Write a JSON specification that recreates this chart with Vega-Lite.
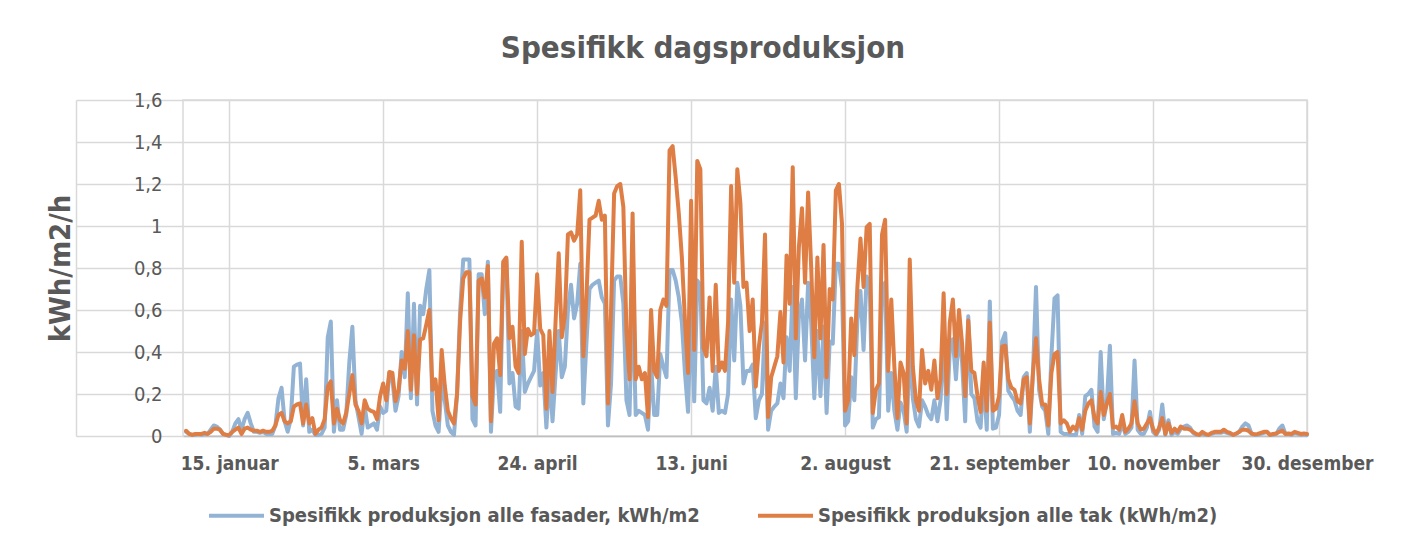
{
"$schema": "https://vega.github.io/schema/vega-lite/v6.json",
"width": 1124, "height": 336,
"autosize": {"type": "none"},
"padding": {"left": 183, "top": 100, "right": 102, "bottom": 110},
"background": "white",
"title": {"text": "Spesifikk dagsproduksjon", "anchor": "middle", "frame": "group", "dx": -42, "offset": 25, "font": "DejaVu Sans Condensed", "fontSize": 31, "fontWeight": "bold", "color": "#595959"},
"data": {"values": [
{"dato":"2020-01-01","fasader":0.02,"tak":0.025},{"dato":"2020-01-02","fasader":0.01,"tak":0.01},{"dato":"2020-01-03","fasader":0.005,"tak":0.005},{"dato":"2020-01-04","fasader":0.005,"tak":0.01},{"dato":"2020-01-05","fasader":0.01,"tak":0.01},{"dato":"2020-01-06","fasader":0.005,"tak":0.01},{"dato":"2020-01-07","fasader":0.01,"tak":0.015},{"dato":"2020-01-08","fasader":0.01,"tak":0.01},{"dato":"2020-01-09","fasader":0.03,"tak":0.02},{"dato":"2020-01-10","fasader":0.05,"tak":0.035},
{"dato":"2020-01-11","fasader":0.045,"tak":0.035},{"dato":"2020-01-12","fasader":0.03,"tak":0.03},{"dato":"2020-01-13","fasader":0.01,"tak":0.01},{"dato":"2020-01-14","fasader":0.005,"tak":0.005},{"dato":"2020-01-15","fasader":0.0,"tak":0.005},{"dato":"2020-01-16","fasader":0.02,"tak":0.02},{"dato":"2020-01-17","fasader":0.06,"tak":0.03},{"dato":"2020-01-18","fasader":0.08,"tak":0.04},{"dato":"2020-01-19","fasader":0.03,"tak":0.01},{"dato":"2020-01-20","fasader":0.08,"tak":0.035},
{"dato":"2020-01-21","fasader":0.11,"tak":0.04},{"dato":"2020-01-22","fasader":0.06,"tak":0.03},{"dato":"2020-01-23","fasader":0.02,"tak":0.025},{"dato":"2020-01-24","fasader":0.02,"tak":0.025},{"dato":"2020-01-25","fasader":0.015,"tak":0.02},{"dato":"2020-01-26","fasader":0.02,"tak":0.025},{"dato":"2020-01-27","fasader":0.01,"tak":0.02},{"dato":"2020-01-28","fasader":0.01,"tak":0.02},{"dato":"2020-01-29","fasader":0.01,"tak":0.025},{"dato":"2020-01-30","fasader":0.05,"tak":0.05},
{"dato":"2020-01-31","fasader":0.18,"tak":0.1},{"dato":"2020-02-01","fasader":0.23,"tak":0.11},{"dato":"2020-02-02","fasader":0.07,"tak":0.07},{"dato":"2020-02-03","fasader":0.02,"tak":0.06},{"dato":"2020-02-04","fasader":0.08,"tak":0.07},{"dato":"2020-02-05","fasader":0.33,"tak":0.14},{"dato":"2020-02-06","fasader":0.34,"tak":0.15},{"dato":"2020-02-07","fasader":0.345,"tak":0.155},{"dato":"2020-02-08","fasader":0.05,"tak":0.06},{"dato":"2020-02-09","fasader":0.27,"tak":0.15},
{"dato":"2020-02-10","fasader":0.02,"tak":0.06},{"dato":"2020-02-11","fasader":0.03,"tak":0.085},{"dato":"2020-02-12","fasader":0.005,"tak":0.01},{"dato":"2020-02-13","fasader":0.005,"tak":0.03},{"dato":"2020-02-14","fasader":0.01,"tak":0.04},{"dato":"2020-02-15","fasader":0.04,"tak":0.08},{"dato":"2020-02-16","fasader":0.47,"tak":0.235},{"dato":"2020-02-17","fasader":0.545,"tak":0.26},{"dato":"2020-02-18","fasader":0.02,"tak":0.06},{"dato":"2020-02-19","fasader":0.17,"tak":0.13},
{"dato":"2020-02-20","fasader":0.03,"tak":0.075},{"dato":"2020-02-21","fasader":0.03,"tak":0.06},{"dato":"2020-02-22","fasader":0.1,"tak":0.11},{"dato":"2020-02-23","fasader":0.35,"tak":0.2},{"dato":"2020-02-24","fasader":0.52,"tak":0.29},{"dato":"2020-02-25","fasader":0.17,"tak":0.15},{"dato":"2020-02-26","fasader":0.09,"tak":0.12},{"dato":"2020-02-27","fasader":0.01,"tak":0.06},{"dato":"2020-02-28","fasader":0.14,"tak":0.17},{"dato":"2020-02-29","fasader":0.04,"tak":0.13},
{"dato":"2020-03-01","fasader":0.05,"tak":0.12},{"dato":"2020-03-02","fasader":0.06,"tak":0.115},{"dato":"2020-03-03","fasader":0.03,"tak":0.08},{"dato":"2020-03-04","fasader":0.14,"tak":0.19},{"dato":"2020-03-05","fasader":0.11,"tak":0.25},{"dato":"2020-03-06","fasader":0.12,"tak":0.17},{"dato":"2020-03-07","fasader":0.3,"tak":0.305},{"dato":"2020-03-08","fasader":0.27,"tak":0.3},{"dato":"2020-03-09","fasader":0.12,"tak":0.165},{"dato":"2020-03-10","fasader":0.19,"tak":0.22},
{"dato":"2020-03-11","fasader":0.4,"tak":0.36},{"dato":"2020-03-12","fasader":0.28,"tak":0.32},{"dato":"2020-03-13","fasader":0.68,"tak":0.5},{"dato":"2020-03-14","fasader":0.18,"tak":0.22},{"dato":"2020-03-15","fasader":0.63,"tak":0.48},{"dato":"2020-03-16","fasader":0.15,"tak":0.2},{"dato":"2020-03-17","fasader":0.62,"tak":0.46},{"dato":"2020-03-18","fasader":0.58,"tak":0.465},{"dato":"2020-03-19","fasader":0.7,"tak":0.53},{"dato":"2020-03-20","fasader":0.79,"tak":0.6},
{"dato":"2020-03-21","fasader":0.12,"tak":0.22},{"dato":"2020-03-22","fasader":0.05,"tak":0.27},{"dato":"2020-03-23","fasader":0.02,"tak":0.075},{"dato":"2020-03-24","fasader":0.25,"tak":0.41},{"dato":"2020-03-25","fasader":0.17,"tak":0.24},{"dato":"2020-03-26","fasader":0.05,"tak":0.12},{"dato":"2020-03-27","fasader":0.02,"tak":0.085},{"dato":"2020-03-28","fasader":0.005,"tak":0.06},{"dato":"2020-03-29","fasader":0.2,"tak":0.2},{"dato":"2020-03-30","fasader":0.6,"tak":0.55},
{"dato":"2020-03-31","fasader":0.84,"tak":0.75},{"dato":"2020-04-01","fasader":0.84,"tak":0.78},{"dato":"2020-04-02","fasader":0.84,"tak":0.78},{"dato":"2020-04-03","fasader":0.08,"tak":0.19},{"dato":"2020-04-04","fasader":0.05,"tak":0.15},{"dato":"2020-04-05","fasader":0.77,"tak":0.74},{"dato":"2020-04-06","fasader":0.77,"tak":0.75},{"dato":"2020-04-07","fasader":0.58,"tak":0.66},{"dato":"2020-04-08","fasader":0.83,"tak":0.81},{"dato":"2020-04-09","fasader":0.02,"tak":0.07},
{"dato":"2020-04-10","fasader":0.3,"tak":0.44},{"dato":"2020-04-11","fasader":0.31,"tak":0.465},{"dato":"2020-04-12","fasader":0.115,"tak":0.29},{"dato":"2020-04-13","fasader":0.82,"tak":0.83},{"dato":"2020-04-14","fasader":0.84,"tak":0.85},{"dato":"2020-04-15","fasader":0.25,"tak":0.465},{"dato":"2020-04-16","fasader":0.3,"tak":0.52},{"dato":"2020-04-17","fasader":0.14,"tak":0.33},{"dato":"2020-04-18","fasader":0.13,"tak":0.3},{"dato":"2020-04-19","fasader":0.5,"tak":0.925},
{"dato":"2020-04-20","fasader":0.21,"tak":0.39},{"dato":"2020-04-21","fasader":0.25,"tak":0.51},{"dato":"2020-04-22","fasader":0.28,"tak":0.48},{"dato":"2020-04-23","fasader":0.31,"tak":0.49},{"dato":"2020-04-24","fasader":0.5,"tak":0.77},{"dato":"2020-04-25","fasader":0.24,"tak":0.51},{"dato":"2020-04-26","fasader":0.3,"tak":0.48},{"dato":"2020-04-27","fasader":0.04,"tak":0.13},{"dato":"2020-04-28","fasader":0.29,"tak":0.5},{"dato":"2020-04-29","fasader":0.07,"tak":0.21},
{"dato":"2020-04-30","fasader":0.3,"tak":0.55},{"dato":"2020-05-01","fasader":0.5,"tak":0.87},{"dato":"2020-05-02","fasader":0.28,"tak":0.47},{"dato":"2020-05-03","fasader":0.33,"tak":0.57},{"dato":"2020-05-04","fasader":0.6,"tak":0.96},{"dato":"2020-05-05","fasader":0.72,"tak":0.97},{"dato":"2020-05-06","fasader":0.56,"tak":0.93},{"dato":"2020-05-07","fasader":0.63,"tak":0.96},{"dato":"2020-05-08","fasader":0.82,"tak":1.17},{"dato":"2020-05-09","fasader":0.155,"tak":0.38},
{"dato":"2020-05-10","fasader":0.44,"tak":0.66},{"dato":"2020-05-11","fasader":0.7,"tak":1.03},{"dato":"2020-05-12","fasader":0.72,"tak":1.04},{"dato":"2020-05-13","fasader":0.73,"tak":1.05},{"dato":"2020-05-14","fasader":0.74,"tak":1.12},{"dato":"2020-05-15","fasader":0.66,"tak":1.03},{"dato":"2020-05-16","fasader":0.63,"tak":1.05},{"dato":"2020-05-17","fasader":0.05,"tak":0.155},{"dato":"2020-05-18","fasader":0.25,"tak":0.6},{"dato":"2020-05-19","fasader":0.74,"tak":1.155},
{"dato":"2020-05-20","fasader":0.76,"tak":1.19},{"dato":"2020-05-21","fasader":0.76,"tak":1.2},{"dato":"2020-05-22","fasader":0.63,"tak":1.09},{"dato":"2020-05-23","fasader":0.17,"tak":0.5},{"dato":"2020-05-24","fasader":0.1,"tak":0.27},{"dato":"2020-05-25","fasader":0.7,"tak":1.06},{"dato":"2020-05-26","fasader":0.1,"tak":0.27},{"dato":"2020-05-27","fasader":0.12,"tak":0.33},{"dato":"2020-05-28","fasader":0.11,"tak":0.27},{"dato":"2020-05-29","fasader":0.1,"tak":0.3},
{"dato":"2020-05-30","fasader":0.03,"tak":0.09},{"dato":"2020-05-31","fasader":0.35,"tak":0.6},{"dato":"2020-06-01","fasader":0.1,"tak":0.31},{"dato":"2020-06-02","fasader":0.1,"tak":0.28},{"dato":"2020-06-03","fasader":0.39,"tak":0.6},{"dato":"2020-06-04","fasader":0.33,"tak":0.65},{"dato":"2020-06-05","fasader":0.28,"tak":0.62},{"dato":"2020-06-06","fasader":0.79,"tak":1.36},{"dato":"2020-06-07","fasader":0.79,"tak":1.38},{"dato":"2020-06-08","fasader":0.74,"tak":1.23},
{"dato":"2020-06-09","fasader":0.66,"tak":1.06},{"dato":"2020-06-10","fasader":0.54,"tak":0.85},{"dato":"2020-06-11","fasader":0.3,"tak":0.55},{"dato":"2020-06-12","fasader":0.115,"tak":0.3},{"dato":"2020-06-13","fasader":0.62,"tak":1.12},{"dato":"2020-06-14","fasader":0.165,"tak":0.41},{"dato":"2020-06-15","fasader":0.74,"tak":1.31},{"dato":"2020-06-16","fasader":0.72,"tak":1.27},{"dato":"2020-06-17","fasader":0.17,"tak":0.42},{"dato":"2020-06-18","fasader":0.155,"tak":0.38},
{"dato":"2020-06-19","fasader":0.23,"tak":0.66},{"dato":"2020-06-20","fasader":0.12,"tak":0.31},{"dato":"2020-06-21","fasader":0.33,"tak":0.72},{"dato":"2020-06-22","fasader":0.11,"tak":0.31},{"dato":"2020-06-23","fasader":0.12,"tak":0.35},{"dato":"2020-06-24","fasader":0.11,"tak":0.31},{"dato":"2020-06-25","fasader":0.2,"tak":0.54},{"dato":"2020-06-26","fasader":0.65,"tak":1.19},{"dato":"2020-06-27","fasader":0.36,"tak":0.73},{"dato":"2020-06-28","fasader":0.73,"tak":1.27},
{"dato":"2020-06-29","fasader":0.62,"tak":1.11},{"dato":"2020-06-30","fasader":0.25,"tak":0.71},{"dato":"2020-07-01","fasader":0.31,"tak":0.73},{"dato":"2020-07-02","fasader":0.31,"tak":0.5},{"dato":"2020-07-03","fasader":0.34,"tak":0.65},{"dato":"2020-07-04","fasader":0.085,"tak":0.235},{"dato":"2020-07-05","fasader":0.17,"tak":0.425},{"dato":"2020-07-06","fasader":0.2,"tak":0.54},{"dato":"2020-07-07","fasader":0.54,"tak":0.96},{"dato":"2020-07-08","fasader":0.03,"tak":0.09},
{"dato":"2020-07-09","fasader":0.12,"tak":0.28},{"dato":"2020-07-10","fasader":0.14,"tak":0.33},{"dato":"2020-07-11","fasader":0.155,"tak":0.38},{"dato":"2020-07-12","fasader":0.25,"tak":0.59},{"dato":"2020-07-13","fasader":0.18,"tak":0.35},{"dato":"2020-07-14","fasader":0.47,"tak":0.86},{"dato":"2020-07-15","fasader":0.31,"tak":0.63},{"dato":"2020-07-16","fasader":0.71,"tak":1.28},{"dato":"2020-07-17","fasader":0.18,"tak":0.465},{"dato":"2020-07-18","fasader":0.57,"tak":0.9},
{"dato":"2020-07-19","fasader":0.65,"tak":1.085},{"dato":"2020-07-20","fasader":0.36,"tak":0.73},{"dato":"2020-07-21","fasader":0.73,"tak":1.16},{"dato":"2020-07-22","fasader":0.54,"tak":0.8},{"dato":"2020-07-23","fasader":0.18,"tak":0.375},{"dato":"2020-07-24","fasader":0.5,"tak":0.85},{"dato":"2020-07-25","fasader":0.19,"tak":0.465},{"dato":"2020-07-26","fasader":0.52,"tak":0.91},{"dato":"2020-07-27","fasader":0.11,"tak":0.28},{"dato":"2020-07-28","fasader":0.45,"tak":0.7},
{"dato":"2020-07-29","fasader":0.44,"tak":0.65},{"dato":"2020-07-30","fasader":0.82,"tak":1.17},{"dato":"2020-07-31","fasader":0.82,"tak":1.2},{"dato":"2020-08-01","fasader":0.7,"tak":1.01},{"dato":"2020-08-02","fasader":0.05,"tak":0.12},{"dato":"2020-08-03","fasader":0.07,"tak":0.17},{"dato":"2020-08-04","fasader":0.28,"tak":0.56},{"dato":"2020-08-05","fasader":0.17,"tak":0.385},{"dato":"2020-08-06","fasader":0.55,"tak":0.71},{"dato":"2020-08-07","fasader":0.69,"tak":0.94},
{"dato":"2020-08-08","fasader":0.41,"tak":0.71},{"dato":"2020-08-09","fasader":0.76,"tak":0.995},{"dato":"2020-08-10","fasader":0.72,"tak":1.01},{"dato":"2020-08-11","fasader":0.04,"tak":0.11},{"dato":"2020-08-12","fasader":0.08,"tak":0.22},{"dato":"2020-08-13","fasader":0.09,"tak":0.25},{"dato":"2020-08-14","fasader":0.7,"tak":0.96},{"dato":"2020-08-15","fasader":0.73,"tak":1.03},{"dato":"2020-08-16","fasader":0.12,"tak":0.31},{"dato":"2020-08-17","fasader":0.3,"tak":0.65},
{"dato":"2020-08-18","fasader":0.12,"tak":0.33},{"dato":"2020-08-19","fasader":0.03,"tak":0.085},{"dato":"2020-08-20","fasader":0.16,"tak":0.35},{"dato":"2020-08-21","fasader":0.12,"tak":0.3},{"dato":"2020-08-22","fasader":0.02,"tak":0.06},{"dato":"2020-08-23","fasader":0.44,"tak":0.84},{"dato":"2020-08-24","fasader":0.18,"tak":0.33},{"dato":"2020-08-25","fasader":0.08,"tak":0.17},{"dato":"2020-08-26","fasader":0.045,"tak":0.12},{"dato":"2020-08-27","fasader":0.17,"tak":0.41},
{"dato":"2020-08-28","fasader":0.14,"tak":0.25},{"dato":"2020-08-29","fasader":0.1,"tak":0.31},{"dato":"2020-08-30","fasader":0.08,"tak":0.22},{"dato":"2020-08-31","fasader":0.17,"tak":0.36},{"dato":"2020-09-01","fasader":0.07,"tak":0.18},{"dato":"2020-09-02","fasader":0.17,"tak":0.27},{"dato":"2020-09-03","fasader":0.5,"tak":0.68},{"dato":"2020-09-04","fasader":0.08,"tak":0.2},{"dato":"2020-09-05","fasader":0.41,"tak":0.54},{"dato":"2020-09-06","fasader":0.46,"tak":0.65},
{"dato":"2020-09-07","fasader":0.27,"tak":0.38},{"dato":"2020-09-08","fasader":0.5,"tak":0.6},{"dato":"2020-09-09","fasader":0.35,"tak":0.44},{"dato":"2020-09-10","fasader":0.07,"tak":0.19},{"dato":"2020-09-11","fasader":0.57,"tak":0.55},{"dato":"2020-09-12","fasader":0.2,"tak":0.31},{"dato":"2020-09-13","fasader":0.18,"tak":0.3},{"dato":"2020-09-14","fasader":0.07,"tak":0.19},{"dato":"2020-09-15","fasader":0.04,"tak":0.115},{"dato":"2020-09-16","fasader":0.28,"tak":0.35},
{"dato":"2020-09-17","fasader":0.03,"tak":0.12},{"dato":"2020-09-18","fasader":0.64,"tak":0.54},{"dato":"2020-09-19","fasader":0.035,"tak":0.12},{"dato":"2020-09-20","fasader":0.04,"tak":0.13},{"dato":"2020-09-21","fasader":0.1,"tak":0.19},{"dato":"2020-09-22","fasader":0.45,"tak":0.425},{"dato":"2020-09-23","fasader":0.49,"tak":0.43},{"dato":"2020-09-24","fasader":0.215,"tak":0.27},{"dato":"2020-09-25","fasader":0.19,"tak":0.23},{"dato":"2020-09-26","fasader":0.17,"tak":0.22},
{"dato":"2020-09-27","fasader":0.12,"tak":0.165},{"dato":"2020-09-28","fasader":0.1,"tak":0.155},{"dato":"2020-09-29","fasader":0.28,"tak":0.27},{"dato":"2020-09-30","fasader":0.3,"tak":0.28},{"dato":"2020-10-01","fasader":0.02,"tak":0.06},{"dato":"2020-10-02","fasader":0.3,"tak":0.3},{"dato":"2020-10-03","fasader":0.71,"tak":0.465},{"dato":"2020-10-04","fasader":0.22,"tak":0.27},{"dato":"2020-10-05","fasader":0.14,"tak":0.15},{"dato":"2020-10-06","fasader":0.12,"tak":0.15},
{"dato":"2020-10-07","fasader":0.01,"tak":0.05},{"dato":"2020-10-08","fasader":0.38,"tak":0.3},{"dato":"2020-10-09","fasader":0.655,"tak":0.39},{"dato":"2020-10-10","fasader":0.67,"tak":0.4},{"dato":"2020-10-11","fasader":0.02,"tak":0.06},{"dato":"2020-10-12","fasader":0.01,"tak":0.075},{"dato":"2020-10-13","fasader":0.01,"tak":0.06},{"dato":"2020-10-14","fasader":0.005,"tak":0.02},{"dato":"2020-10-15","fasader":0.005,"tak":0.045},{"dato":"2020-10-16","fasader":0.005,"tak":0.03},
{"dato":"2020-10-17","fasader":0.1,"tak":0.085},{"dato":"2020-10-18","fasader":0.01,"tak":0.03},{"dato":"2020-10-19","fasader":0.19,"tak":0.12},{"dato":"2020-10-20","fasader":0.2,"tak":0.155},{"dato":"2020-10-21","fasader":0.22,"tak":0.17},{"dato":"2020-10-22","fasader":0.045,"tak":0.085},{"dato":"2020-10-23","fasader":0.02,"tak":0.06},{"dato":"2020-10-24","fasader":0.4,"tak":0.21},{"dato":"2020-10-25","fasader":0.08,"tak":0.1},{"dato":"2020-10-26","fasader":0.16,"tak":0.155},
{"dato":"2020-10-27","fasader":0.43,"tak":0.2},{"dato":"2020-10-28","fasader":0.01,"tak":0.04},{"dato":"2020-10-29","fasader":0.015,"tak":0.045},{"dato":"2020-10-30","fasader":0.01,"tak":0.03},{"dato":"2020-10-31","fasader":0.06,"tak":0.1},{"dato":"2020-11-01","fasader":0.01,"tak":0.02},{"dato":"2020-11-02","fasader":0.02,"tak":0.035},{"dato":"2020-11-03","fasader":0.04,"tak":0.06},{"dato":"2020-11-04","fasader":0.36,"tak":0.165},{"dato":"2020-11-05","fasader":0.03,"tak":0.06},
{"dato":"2020-11-06","fasader":0.01,"tak":0.03},{"dato":"2020-11-07","fasader":0.01,"tak":0.035},{"dato":"2020-11-08","fasader":0.04,"tak":0.06},{"dato":"2020-11-09","fasader":0.115,"tak":0.085},{"dato":"2020-11-10","fasader":0.02,"tak":0.035},{"dato":"2020-11-11","fasader":0.005,"tak":0.01},{"dato":"2020-11-12","fasader":0.03,"tak":0.04},{"dato":"2020-11-13","fasader":0.15,"tak":0.085},{"dato":"2020-11-14","fasader":0.005,"tak":0.01},{"dato":"2020-11-15","fasader":0.075,"tak":0.06},
{"dato":"2020-11-16","fasader":0.005,"tak":0.015},{"dato":"2020-11-17","fasader":0.02,"tak":0.035},{"dato":"2020-11-18","fasader":0.01,"tak":0.02},{"dato":"2020-11-19","fasader":0.035,"tak":0.045},{"dato":"2020-11-20","fasader":0.045,"tak":0.035},{"dato":"2020-11-21","fasader":0.05,"tak":0.035},{"dato":"2020-11-22","fasader":0.04,"tak":0.03},{"dato":"2020-11-23","fasader":0.015,"tak":0.02},{"dato":"2020-11-24","fasader":0.005,"tak":0.01},{"dato":"2020-11-25","fasader":0.005,"tak":0.005},
{"dato":"2020-11-26","fasader":0.01,"tak":0.02},{"dato":"2020-11-27","fasader":0.005,"tak":0.01},{"dato":"2020-11-28","fasader":0.005,"tak":0.005},{"dato":"2020-11-29","fasader":0.01,"tak":0.015},{"dato":"2020-11-30","fasader":0.015,"tak":0.02},{"dato":"2020-12-01","fasader":0.015,"tak":0.02},{"dato":"2020-12-02","fasader":0.015,"tak":0.02},{"dato":"2020-12-03","fasader":0.02,"tak":0.03},{"dato":"2020-12-04","fasader":0.015,"tak":0.02},{"dato":"2020-12-05","fasader":0.01,"tak":0.015},
{"dato":"2020-12-06","fasader":0.005,"tak":0.005},{"dato":"2020-12-07","fasader":0.01,"tak":0.012},{"dato":"2020-12-08","fasader":0.02,"tak":0.02},{"dato":"2020-12-09","fasader":0.045,"tak":0.03},{"dato":"2020-12-10","fasader":0.06,"tak":0.03},{"dato":"2020-12-11","fasader":0.05,"tak":0.025},{"dato":"2020-12-12","fasader":0.01,"tak":0.012},{"dato":"2020-12-13","fasader":0.005,"tak":0.008},{"dato":"2020-12-14","fasader":0.005,"tak":0.01},{"dato":"2020-12-15","fasader":0.01,"tak":0.015},
{"dato":"2020-12-16","fasader":0.015,"tak":0.02},{"dato":"2020-12-17","fasader":0.02,"tak":0.02},{"dato":"2020-12-18","fasader":0.005,"tak":0.005},{"dato":"2020-12-19","fasader":0.005,"tak":0.01},{"dato":"2020-12-20","fasader":0.01,"tak":0.012},{"dato":"2020-12-21","fasader":0.035,"tak":0.02},{"dato":"2020-12-22","fasader":0.05,"tak":0.025},{"dato":"2020-12-23","fasader":0.01,"tak":0.01},{"dato":"2020-12-24","fasader":0.01,"tak":0.012},{"dato":"2020-12-25","fasader":0.005,"tak":0.01},
{"dato":"2020-12-26","fasader":0.015,"tak":0.02},{"dato":"2020-12-27","fasader":0.01,"tak":0.015},{"dato":"2020-12-28","fasader":0.005,"tak":0.01},{"dato":"2020-12-29","fasader":0.008,"tak":0.012},{"dato":"2020-12-30","fasader":0.005,"tak":0.01}
]},
"transform": [{"fold": ["fasader", "tak"], "as": ["serie", "verdi"]}],
"mark": {"type": "line", "strokeWidth": 4, "strokeJoin": "round", "strokeCap": "round"},
"encoding": {
  "x": {"field": "dato", "type": "temporal",
    "scale": {"type": "utc", "nice": false, "domain": [{"year": 2019, "month": 12, "date": 31, "utc": true}, {"year": 2020, "month": 12, "date": 30, "utc": true}]},
    "axis": {"title": null,
      "values": [{"year": 2020, "month": 1, "date": 15, "utc": true}, {"year": 2020, "month": 3, "date": 5, "utc": true}, {"year": 2020, "month": 4, "date": 24, "utc": true}, {"year": 2020, "month": 6, "date": 13, "utc": true}, {"year": 2020, "month": 8, "date": 2, "utc": true}, {"year": 2020, "month": 9, "date": 21, "utc": true}, {"year": 2020, "month": 11, "date": 10, "utc": true}, {"year": 2020, "month": 12, "date": 30, "utc": true}],
      "labelExpr": "utcdate(datum.value) + '. ' + ['januar','februar','mars','april','mai','juni','juli','august','september','oktober','november','desember'][utcmonth(datum.value)]",
      "grid": true, "gridColor": "#d9d9d9", "gridWidth": 1.5, "ticks": false,
      "domainColor": "#bfbfbf", "domainWidth": 1.5,
      "labelFont": "DejaVu Sans Condensed", "labelFontSize": 19, "labelFontWeight": "bold", "labelColor": "#595959",
      "labelPadding": 18, "labelFlush": false, "labelBound": false, "labelOverlap": false}},
  "y": {"field": "verdi", "type": "quantitative",
    "scale": {"domain": [0, 1.6], "nice": false},
    "axis": {"title": "kWh/m2/h", "values": [0, 0.2, 0.4, 0.6, 0.8, 1, 1.2, 1.4, 1.6],
      "labelExpr": "replace(format(datum.value, '.1~f'), '.', ',')",
      "offset": 107, "tickSize": -107, "tickColor": "#d9d9d9", "tickWidth": 1.5,
      "domainColor": "#d9d9d9", "domainWidth": 1.5,
      "grid": true, "gridColor": "#d9d9d9", "gridWidth": 1.5,
      "labelPadding": 21, "labelFont": "DejaVu Sans Condensed", "labelFontSize": 20, "labelColor": "#595959",
      "titleFont": "DejaVu Sans Condensed", "titleFontSize": 29, "titleFontWeight": "bold", "titleColor": "#595959", "titlePadding": 0}},
  "color": {"field": "serie", "type": "nominal",
    "scale": {"domain": ["fasader", "tak"], "range": ["#93B3D5", "#DE7E45"]},
    "legend": {"title": null, "orient": "none", "legendX": 24, "legendY": 386, "direction": "horizontal",
      "symbolType": "stroke", "symbolSize": 3025, "symbolStrokeWidth": 4,
      "labelFont": "DejaVu Sans Condensed", "labelFontSize": 20, "labelFontWeight": "bold", "labelColor": "#595959",
      "labelOffset": 3, "columnPadding": 50, "labelLimit": 0, "padding": 0,
      "labelExpr": "datum.label == 'fasader' ? 'Spesifikk produksjon alle fasader, kWh/m2' : 'Spesifikk produksjon alle tak (kWh/m2)'"}}
},
"config": {"view": {"stroke": "#d9d9d9", "strokeWidth": 1.5}}
}
